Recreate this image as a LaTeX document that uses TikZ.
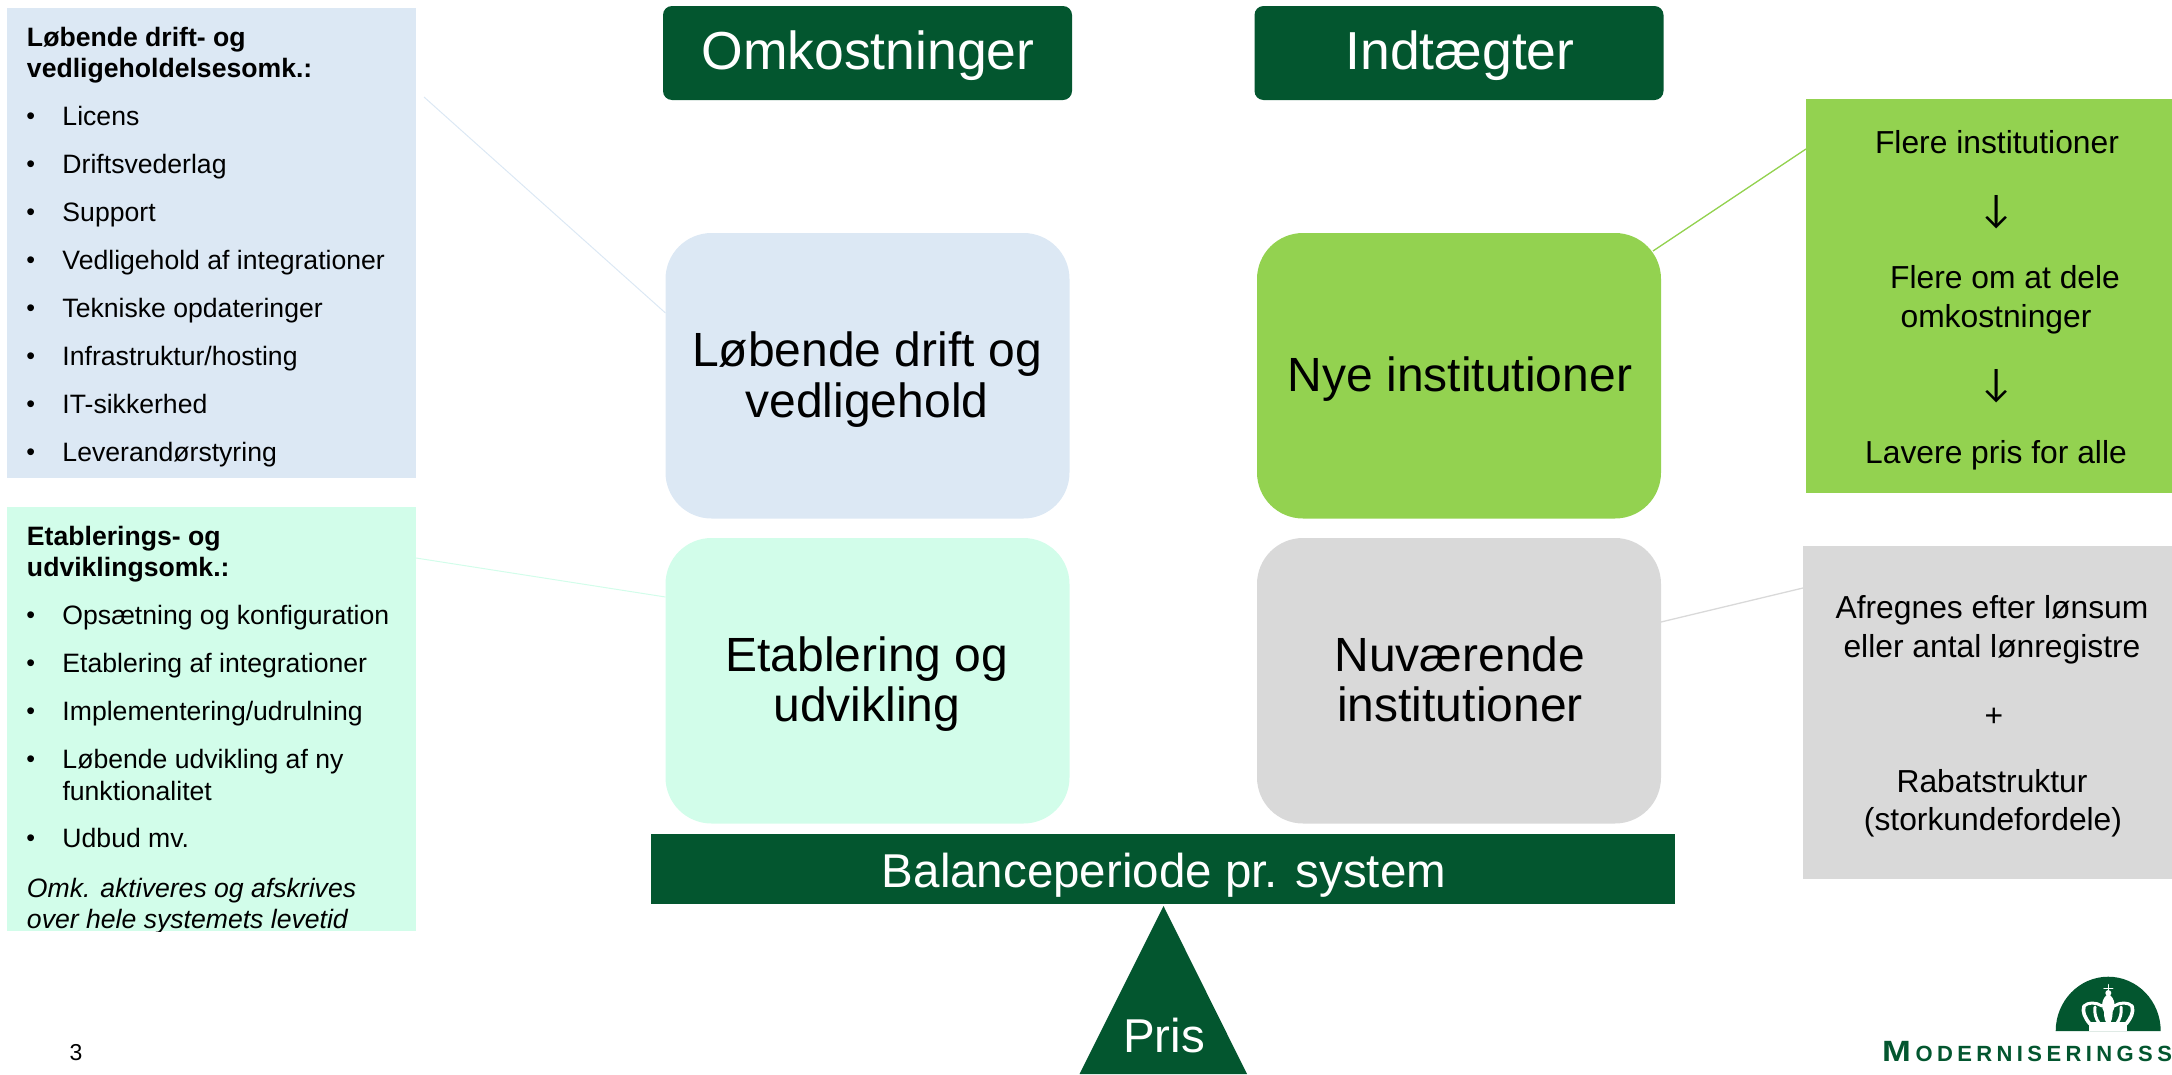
\documentclass[tikz,border=0pt]{standalone}
\usepackage{fontspec}
\setmainfont{Liberation Sans}
\newfontfamily\arrowf{Carlito}
\definecolor{dkgreen}{HTML}{03562F}
\definecolor{paleblue}{HTML}{DCE8F4}
\definecolor{mint}{HTML}{D2FDEA}
\definecolor{lime}{HTML}{93D250}
\definecolor{lgrey}{HTML}{D9D9D9}
\newcommand{\bigf}{\fontsize{48}{50}\selectfont}
\newcommand{\medf}{\fontsize{31.8}{38.5}\selectfont}
\newcommand{\smf}{\fontsize{26.6}{32}\selectfont}
\newcommand{\bull}[1]{\makebox[35.5pt][l]{\hspace{-0.5pt}\raisebox{0.6pt}{\fontsize{25}{25}\selectfont •}}#1}
\tikzset{
  x=1pt,y=-1pt,
  box/.style={inner sep=0pt,outer sep=0pt,anchor=north west},
  header/.style={box,fill=dkgreen,rounded corners=9pt,minimum width=409pt,minimum height=94pt},
  bigbox/.style={box,rounded corners=46pt,minimum width=404pt,minimum height=285.5pt},
  linetext/.style={inner sep=0pt,outer sep=0pt,anchor=base},
  listtext/.style={inner sep=0pt,outer sep=0pt,anchor=base west,font=\smf},
  cen/.style={linetext,font=\medf},
  arr/.style={linetext,font=\arrowf\fontsize{40}{44}\selectfont},
  big/.style={linetext,font=\bigf},
  wbig/.style={linetext,text=white},
  link/.style={line width=1pt},
}
\begin{document}
\begin{tikzpicture}
\useasboundingbox (0,0) rectangle (2172,1074);
% side panels
\node[box,fill=paleblue,minimum width=409pt,minimum height=470pt] (sideblue) at (7,8) {};
\node[box,fill=mint,minimum width=409pt,minimum height=424pt] (sidemint) at (7,507) {};
\node[box,fill=lime,minimum width=366pt,minimum height=394pt] (sidelime) at (1806,99) {};
\node[box,fill=lgrey,minimum width=369pt,minimum height=333pt] (sidegrey) at (1803,546) {};
% headers
\node[header] (hcost) at (663,6) {};
\node[header] (hinc) at (1254.5,6) {};
\node[wbig,font=\fontsize{53.5}{60}\selectfont] (tcost) at (868,69) {Omkostninger};
\node[wbig,font=\fontsize{53.5}{60}\selectfont] (tinc) at (1460,69) {Indtægter};
% central boxes
\node[bigbox,fill=paleblue] (drift) at (665.5,233) {};
\node[bigbox,fill=mint] (etab) at (665.5,538) {};
\node[bigbox,fill=lime] (nye) at (1257,233) {};
\node[bigbox,fill=lgrey] (nuv) at (1257,538) {};
\node[big] (d1) at (867,366.5) {Løbende drift og};
\node[big] (d2) at (867,417) {vedligehold};
\node[big] (e1) at (867,671) {Etablering og};
\node[big] (e2) at (867,721.5) {udvikling};
\node[big] (n1) at (1460,391) {Nye institutioner};
\node[big] (u1) at (1460,671) {Nuværende};
\node[big] (u2) at (1460,721.5) {institutioner};
% connectors
\draw[link,paleblue] ([xshift=8pt,yshift=-89pt]sideblue.north east) -- ([yshift=-80pt]drift.north west);
\draw[link,mint] ([yshift=-51pt]sidemint.north east) -- ([yshift=-59pt]etab.north west);
\draw[link,lime,line width=1.3pt] ([yshift=-50pt]sidelime.north west) -- ([xshift=-8pt,yshift=-18pt]nye.north east);
\draw[link,lgrey,line width=1.3pt] ([yshift=-42pt]sidegrey.north west) -- ([yshift=-84pt]nuv.north east);
% balance
\node[box,fill=dkgreen,minimum width=1024pt,minimum height=70pt] (bar) at (651,834) {};
\node[wbig,font=\fontsize{47.5}{50}\selectfont] (tbar) at (1164,887) {Balanceperiode pr. system};
\fill[dkgreen] (1163.5,906) -- (1247,1074) -- (1079.5,1074) -- cycle;
\node[wbig,font=\fontsize{47.5}{50}\selectfont] (tpris) at (1164,1052.7) {Pris};
% blue list
\begin{scope}[every node/.style={listtext}]
\node[font=\smf\bfseries] (bt1) at (27,46) {Løbende drift- og};
\node[font=\smf\bfseries] (bt2) at (27,77.5) {vedligeholdelsesomk.:};
\node (b1) at (27,125) {\bull{Licens}};
\node (b2) at (27,173) {\bull{Driftsvederlag}};
\node (b3) at (27,221) {\bull{Support}};
\node (b4) at (27,269) {\bull{Vedligehold af integrationer}};
\node (b5) at (27,317) {\bull{Tekniske opdateringer}};
\node (b6) at (27,365) {\bull{Infrastruktur/hosting}};
\node (b7) at (27,413) {\bull{IT-sikkerhed}};
\node (b8) at (27,461) {\bull{Leverandørstyring}};
% mint list
\node[font=\smf\bfseries] (mt1) at (27,545) {Etablerings- og};
\node[font=\smf\bfseries] (mt2) at (27,576.5) {udviklingsomk.:};
\node (m1) at (27,624) {\bull{Opsætning og konfiguration}};
\node (m2) at (27,672.5) {\bull{Etablering af integrationer}};
\node (m3) at (27,720) {\bull{Implementering/udrulning}};
\node (m4) at (27,768) {\bull{Løbende udvikling af ny}};
\node (m4b) at (62.5,800) {funktionalitet};
\node (m5) at (27,847.5) {\bull{Udbud mv.}};
\node[font=\smf\itshape] (mi1) at (27,897) {Omk. aktiveres og afskrives};
\begin{scope}
\clip (7,900) rectangle (416,931);
\node[font=\smf\itshape] (mi2) at (27,928.6) {over hele systemets levetid};
\end{scope}
\end{scope}
% lime text
\node[cen] (l1) at (1997,153.7) {Flere institutioner};
\node[arr] (l2) at (1997,222) {↓};
\node[cen] (l3) at (2005,288) {Flere om at dele};
\node[cen] (l4) at (1996,327) {omkostninger};
\node[arr] (l5) at (1997,396) {↓};
\node[cen] (l6) at (1996,463) {Lavere pris for alle};
% grey text
\node[cen] (g1) at (1992,618) {Afregnes efter lønsum};
\node[cen] (g2) at (1992,657) {eller antal lønregistre};
\node[cen] (g3) at (1994,726) {+};
\node[cen] (g4) at (1992,792) {Rabatstruktur};
\node[cen] (g5) at (1993,830) {(storkundefordele)};
% page number
\node[linetext,font=\fontsize{23}{26}\selectfont] (pg) at (76,1060.6) {3};
% logo
\fill[dkgreen] (2055.7,1031) arc[start angle=180,end angle=360,x radius=52.5,y radius=54.3] -- cycle;
\begin{scope}[white,line cap=round,line join=round]
\fill (2089,1031) -- (2089,1022) -- (2127.3,1022) -- (2127.3,1031) -- cycle;
\draw[line width=1.5pt] (2108.3,984.7) -- (2108.3,994) (2104,988.3) -- (2112.7,988.3);
\fill (2108.3,993) circle[radius=3];
\fill (2108.3,994) .. controls (2101,998) and (2101,1008) .. (2104,1012) .. controls (2104,1018) and (2105,1022) .. (2108.3,1025) .. controls (2111.6,1022) and (2112.6,1018) .. (2112.6,1012) .. controls (2115.6,1008) and (2115.6,998) .. (2108.3,994) -- cycle;
\draw[line width=3.6pt] (2084,1006) .. controls (2082,1012) and (2085,1018) .. (2090,1024);
\draw[line width=3.6pt] (2132,1006) .. controls (2134,1012) and (2131,1018) .. (2126,1024);
\draw[line width=3pt] (2095,1007) .. controls (2094,1013) and (2096,1019) .. (2099,1023);
\draw[line width=3pt] (2121,1007) .. controls (2122,1013) and (2120,1019) .. (2117,1023);
\draw[line width=3pt] (2084,1006) .. controls (2088,1002) and (2096,1002) .. (2102,1006);
\draw[line width=3pt] (2132,1006) .. controls (2128,1002) and (2120,1002) .. (2114,1006);
\end{scope}
\node[inner sep=0pt,outer sep=0pt,anchor=base west,text=dkgreen,font=\fontsize{29.3}{30}\bfseries\selectfont\addfontfeature{FakeStretch=1.18}] (logoM) at (1882,1061.7) {M};
\node[inner sep=0pt,outer sep=0pt,anchor=base west,text=dkgreen,font=\fontsize{22}{30}\bfseries\selectfont\addfontfeature{LetterSpace=20}] (logoT) at (1915.5,1061.7) {ODERNISERINGSS};
\end{tikzpicture}
\end{document}
